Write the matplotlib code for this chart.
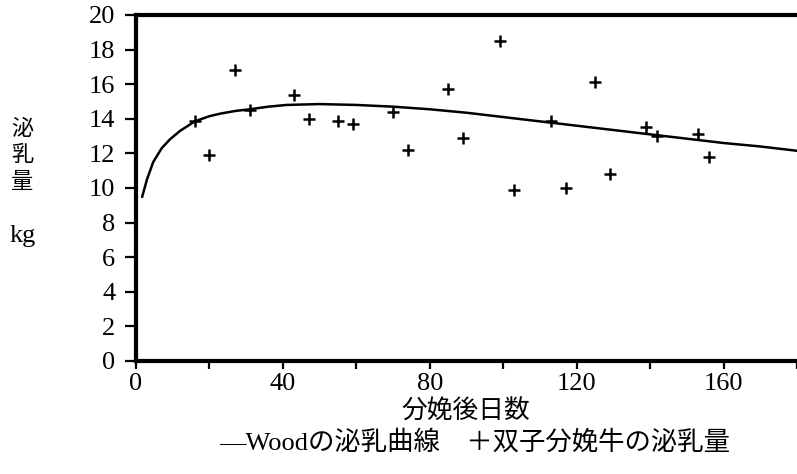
import matplotlib
matplotlib.use('Agg')
import matplotlib.pyplot as plt
from matplotlib.ticker import MultipleLocator

# 数字とラテン文字は明朝風のセリフ体、和文はNotoにフォールバック
plt.rcParams['font.family'] = ['Liberation Serif', 'Noto Sans CJK JP']

# 双子分娩牛の泌乳量 (分娩後日数, kg)
twin_days = [16, 20, 27, 31, 43, 47, 55, 59, 70, 74, 85, 89,
             99, 103, 113, 117, 125, 129, 139, 142, 153, 156]
twin_milk = [13.9, 11.9, 16.8, 14.5, 15.4, 14.0, 13.9, 13.7, 14.4, 12.2, 15.7, 12.9,
             18.5, 9.9, 13.9, 10.0, 16.1, 10.8, 13.5, 13.0, 13.1, 11.8]

# Woodの泌乳曲線 (読み取り値)
wood_days = [1.7, 3, 4.7, 7, 9.2, 12, 14.2, 16, 20, 23, 27, 31, 36, 41, 50,
             60, 70, 80, 90, 100, 110, 120, 130, 140, 150, 160, 170, 180]
wood_milk = [9.5, 10.5, 11.5, 12.3, 12.8, 13.3, 13.6, 13.85, 14.15, 14.3, 14.45, 14.55, 14.7, 14.8, 14.85,
             14.8, 14.7, 14.55, 14.35, 14.1, 13.85, 13.6, 13.35, 13.1, 12.85, 12.6, 12.4, 12.15]

x_ticks = [0, 40, 80, 120, 160]
y_label_chars = ['泌', '乳', '量']

fig = plt.figure(figsize=(7.97, 4.74), dpi=100)
ax = fig.add_axes([0.1706, 0.2384, 0.8294, 0.73])

ax.plot(wood_days, wood_milk, color='black', lw=1.8)
ax.plot(twin_days, twin_milk, ls='none', marker='+', color='black', ms=9, mew=1.8)

ax.set_xlim(0, 180)
ax.set_ylim(0, 20)
ax.set_xticks(x_ticks)
ax.xaxis.set_minor_locator(MultipleLocator(20))
ax.yaxis.set_major_locator(MultipleLocator(2))

ax.spines['right'].set_visible(False)
for side in ['left', 'bottom', 'top']:
    ax.spines[side].set_linewidth(3)

ax.tick_params(axis='y', which='major', direction='out', length=8, width=1.6,
               pad=7, labelsize=19)
ax.tick_params(axis='x', which='both', direction='out', length=6, width=1.6,
               pad=3, labelsize=19)
ax.tick_params(axis='x', which='minor', labelbottom=False)

# 縦軸ラベル (縦書き)
for i, ch in enumerate(y_label_chars):
    fig.text(0.028, 0.726 - i * 0.056, ch, ha='center', va='center', fontsize=16)
fig.text(0.029, 0.502, 'kg', ha='center', va='center', fontsize=19)

# 横軸ラベルと凡例
fig.text(0.585, 0.131, '分娩後日数', ha='center', va='center', fontsize=18.5)
fig.text(0.595, 0.066, '—Woodの泌乳曲線　＋双子分娩牛の泌乳量',
         ha='center', va='center', fontsize=19)

fig.savefig('out.png', dpi=100)
